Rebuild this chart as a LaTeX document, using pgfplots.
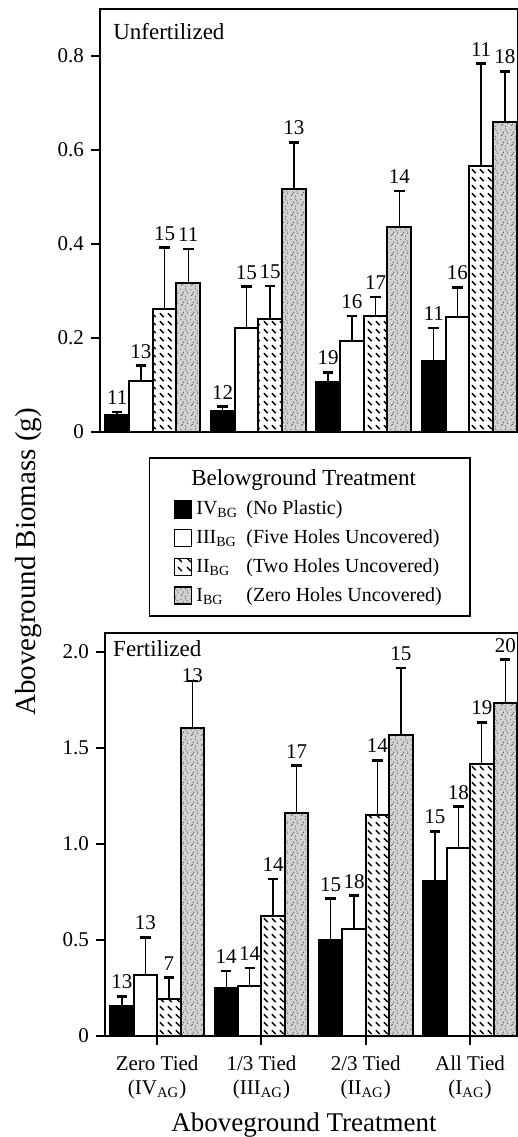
\documentclass[border=0pt]{standalone}
\usepackage{fontspec}
\setmainfont{Liberation Serif}
\usepackage{pgfplots}
\pgfplotsset{compat=1.18}
\usepackage{pgfplotstable}
\usetikzlibrary{patterns}

\pgfdeclarepatternformonly{mydash}{\pgfqpoint{0pt}{0pt}}{\pgfqpoint{4.2pt}{4.2pt}}{\pgfqpoint{4.2pt}{4.2pt}}{%
  \pgfsetlinewidth{0.8pt}\pgfsetroundcap
  \pgfpathmoveto{\pgfqpoint{0.6pt}{3.5pt}}\pgfpathlineto{\pgfqpoint{2.4pt}{1.7pt}}\pgfusepath{stroke}}

\pgfdeclarepatternformonly{stipple}{\pgfqpoint{0pt}{0pt}}{\pgfqpoint{5pt}{5pt}}{\pgfqpoint{5pt}{5pt}}{%
  \pgfpathcircle{\pgfqpoint{0.7pt}{0.9pt}}{0.32pt}
  \pgfpathcircle{\pgfqpoint{3.1pt}{0.4pt}}{0.32pt}
  \pgfpathcircle{\pgfqpoint{1.9pt}{2.6pt}}{0.32pt}
  \pgfpathcircle{\pgfqpoint{4.2pt}{2.1pt}}{0.32pt}
  \pgfpathcircle{\pgfqpoint{0.5pt}{4.1pt}}{0.32pt}
  \pgfpathcircle{\pgfqpoint{2.9pt}{4.4pt}}{0.32pt}
  \pgfpathcircle{\pgfqpoint{3.8pt}{3.3pt}}{0.32pt}
  \pgfpathcircle{\pgfqpoint{1.4pt}{1.5pt}}{0.32pt}
  \pgfusepath{fill}}

% value = bar height, e = error (upper), n = sample size
\pgfplotstableread{
x y1 e1 n1 y2 e2 n2 y3 e3 n3 y4 e4 n4
1 0.036 0.007 11 0.108 0.033 13 0.261 0.131 15 0.316 0.073 11
2 0.045 0.009 12 0.222 0.087 15 0.240 0.071 15 0.517 0.099 13
3 0.106 0.021 19 0.194 0.053 16 0.247 0.040 17 0.437 0.076 14
4 0.151 0.070 11 0.245 0.063 16 0.566 0.218 11 0.660 0.107 18
}\unfert

\pgfplotstableread{
x y1 e1 n1 y2 e2 n2 y3 e3 n3 y4 e4 n4
1 0.158 0.049 13 0.318 0.196 13 0.191 0.113 7 1.606 0.243 13
2 0.248 0.091 14 0.259 0.095 14 0.627 0.191 14 1.161 0.247 17
3 0.500 0.215 15 0.556 0.175 18 1.153 0.283 14 1.566 0.351 15
4 0.809 0.257 15 0.981 0.213 18 1.418 0.216 19 1.733 0.227 20
}\fert

\pgfplotsset{
  sq/.style={legend image code/.code={\draw[##1,line width=0.9pt] (0pt,-4.25pt) rectangle (8.5pt,4.25pt);}},
  eb/.style={error bars/.cd, y dir=plus, y explicit,
    error bar style={line width=0.7pt, black},
    error mark options={rotate=90, line width=1.3pt, mark size=2.6pt, black}},
  s1/.style={fill=black, draw=black, line width=1pt, bar shift=-0.3375, sq, eb},
  s2/.style={fill=white, draw=black, line width=1pt, bar shift=-0.1125, sq, eb},
  s3/.style={fill=white, draw=black, line width=1pt, bar shift=0.1125, postaction={pattern=mydash, pattern color=black}, sq, eb},
  s4/.style={fill=black!18, draw=black, line width=1pt, bar shift=0.3375, postaction={pattern=stipple, pattern color=black!70}, sq, eb},
  lab/.style={draw=none, fill=none, forget plot, bar shift=#1,
    nodes near coords={\pgfplotspointmeta}, point meta=explicit symbolic,
    every node near coord/.append style={anchor=south, inner sep=0pt, yshift=3.5pt, text=black, font=\fontsize{10.5}{12}\selectfont}},
  common/.style={
    ybar, bar width=0.225,
    xmin=0.5, xmax=4.46, ymin=0,
    clip=false,
    axis line style={line width=1pt},
    every tick/.style={black, line width=1pt},
    major tick length=4.5pt,
    tick align=outside,
    ytick pos=left, xtick pos=bottom,
    tick label style={font=\fontsize{10.5}{12}\selectfont},
  },
}

\begin{document}
\begin{tikzpicture}
\begin{axis}[common,
  at={(50pt,-216pt)}, anchor=south west,
  x=52.75pt, y=235pt, ymax=0.9,
  xtick=\empty,
  ytick={0,0.2,0.4,0.6,0.8}, yticklabels={0,0.2,0.4,0.6,0.8},
  ylabel={Aboveground Biomass (g)},
  ylabel style={at={(axis description cs:-0.172,-0.307)}, anchor=center, font=\fontsize{14.5}{16}\selectfont},
  legend cell align=left,
  legend style={at={(0.502,-0.059)}, anchor=north, draw=black, line width=0.8pt, fill=white,
    font=\fontsize{10}{12}\selectfont, inner xsep=12pt, inner ysep=4pt, row sep=2pt,
    /tikz/every even column/.append style={column sep=2.5pt}},
]
\addlegendimage{empty legend}
\addlegendentry{\hspace*{-2.5pt}{\fontsize{11.5}{13}\selectfont Belowground Treatment}}
\addplot[s1] table[x=x, y=y1, y error=e1]{\unfert};
\addlegendentry{\makebox[25pt][l]{IV\textsubscript{BG}}(No Plastic)}
\addplot[s2] table[x=x, y=y2, y error=e2]{\unfert};
\addlegendentry{\makebox[25pt][l]{III\textsubscript{BG}}(Five Holes Uncovered)}
\addplot[s3] table[x=x, y=y3, y error=e3]{\unfert};
\addlegendentry{\makebox[25pt][l]{II\textsubscript{BG}}(Two Holes Uncovered)}
\addplot[s4] table[x=x, y=y4, y error=e4]{\unfert};
\addlegendentry{\makebox[25pt][l]{I\textsubscript{BG}}(Zero Holes Uncovered)}
\addplot[lab=-0.3375] table[x=x, y expr=\thisrow{y1}+\thisrow{e1}, meta=n1]{\unfert};
\addplot[lab=-0.1125] table[x=x, y expr=\thisrow{y2}+\thisrow{e2}, meta=n2]{\unfert};
\addplot[lab=0.1125] table[x=x, y expr=\thisrow{y3}+\thisrow{e3}, meta=n3]{\unfert};
\addplot[lab=0.3375] table[x=x, y expr=\thisrow{y4}+\thisrow{e4}, meta=n4]{\unfert};
\node[anchor=base west, inner sep=0pt, font=\fontsize{11.5}{13}\selectfont] at (rel axis cs:0.031,0.927) {Unfertilized};
\end{axis}

\begin{axis}[common,
  at={(52.5pt,-518pt)}, anchor=south west,
  x=52.15pt, y=96pt, ymax=2.1,
  xtick={1,2,3,4},
  xticklabels={{Zero Tied\\(IV\textsubscript{AG})},{1/3 Tied\\(III\textsubscript{AG})},{2/3 Tied\\(II\textsubscript{AG})},{All Tied\\(I\textsubscript{AG})}},
  xticklabel style={align=center, font=\fontsize{10.5}{12}\selectfont, yshift=-2pt},
  ytick={0,0.5,1,1.5,2}, yticklabels={0,0.5,1.0,1.5,2.0},
  xlabel={Aboveground Treatment},
  xlabel style={at={(axis description cs:0.482,-0.221)}, anchor=center, font=\fontsize{13.5}{15}\selectfont},
]
\addplot[s1] table[x=x, y=y1, y error=e1]{\fert};
\addplot[s2] table[x=x, y=y2, y error=e2]{\fert};
\addplot[s3] table[x=x, y=y3, y error=e3]{\fert};
\addplot[s4] table[x=x, y=y4, y error=e4]{\fert};
\addplot[lab=-0.3375] table[x=x, y expr=\thisrow{y1}+\thisrow{e1}, meta=n1]{\fert};
\addplot[lab=-0.1125] table[x=x, y expr=\thisrow{y2}+\thisrow{e2}, meta=n2]{\fert};
\addplot[lab=0.1125] table[x=x, y expr=\thisrow{y3}+\thisrow{e3}, meta=n3]{\fert};
\addplot[lab=0.3375, restrict x to domain=1.5:4.5] table[x=x, y expr=\thisrow{y4}+\thisrow{e4}, meta=n4]{\fert};
\addplot[lab=0.3375, restrict x to domain=0.5:1.5, every node near coord/.append style={yshift=-4.5pt}] table[x=x, y expr=\thisrow{y4}+\thisrow{e4}, meta=n4]{\fert};
\node[anchor=base west, inner sep=0pt, font=\fontsize{11.5}{13}\selectfont] at (rel axis cs:0.019,0.941) {Fertilized};
\end{axis}
\pgfresetboundingbox
\useasboundingbox (0pt,0pt) rectangle (259pt,-568.5pt);
\end{tikzpicture}
\end{document}
